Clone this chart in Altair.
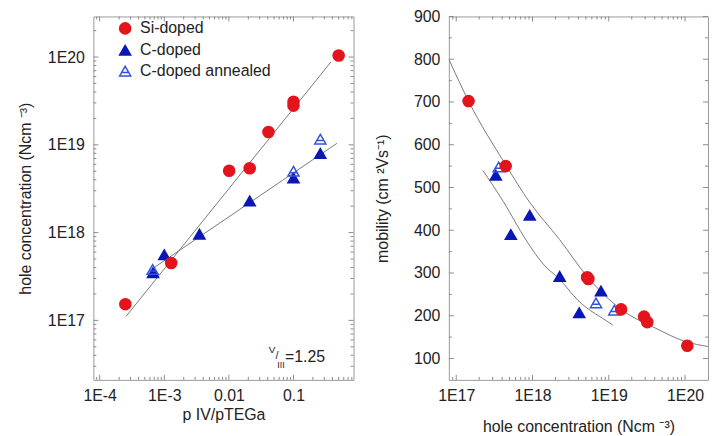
import altair as alt
import pandas as pd

# ---------------- data: left panel ----------------
si_ratio = [2.5e-4, 1.28e-3, 0.0101, 0.021, 0.041, 0.1, 0.1, 0.5]
si_hole = [1.53e17, 4.5e17, 5.07e18, 5.4e18, 1.4e19, 3.1e19, 2.8e19, 1.04e20]
c_ratio = [6.7e-4, 1.0e-3, 3.5e-3, 0.021, 0.1, 0.26]
c_hole = [3.5e17, 5.6e17, 9.6e17, 2.3e18, 4.2e18, 8.0e18]
ca_ratio = [6.6e-4, 0.1, 0.26]
ca_hole = [3.8e17, 5.0e18, 1.16e19]

si_fit_ratio = [2.56e-4, 0.38]
si_fit_hole = [1.11e17, 8.8e19]
c_fit_ratio = [7.0e-4, 0.47]
c_fit_hole = [4.0e17, 1.04e19]

# ---------------- data: right panel ----------------
si_conc = [1.45e17, 4.45e17, 5.2e18, 5.4e18, 1.45e19, 2.9e19, 3.2e19, 1.07e20]
si_mob = [702, 550, 290, 286, 215, 198, 185, 130]
c_conc = [3.3e17, 5.2e17, 9.2e17, 2.27e18, 4.1e18, 7.9e18]
c_mob = [529, 390, 435, 292, 207, 258]
ca_conc = [3.6e17, 6.8e18, 1.18e19]
ca_mob = [548, 230, 213]

upper_fit_conc = [8.0e16, 1.45e17, 4.45e17, 9.2e17, 2.27e18, 5.3e18, 1.45e19, 4.1e19, 1.0e20, 2.0e20]
upper_fit_mob = [800, 702, 553, 465, 378, 290, 215, 171, 140, 128]
lower_fit_conc = [2.23e17, 4.15e17, 8.36e17, 1.38e18, 2.27e18, 3.95e18, 1.07e19, 1.13e19]
lower_fit_mob = [540, 467, 375, 321, 285, 236, 181, 178]

series_names = ["Si-doped", "C-doped", "C-doped annealed"]

# axis tick values
lx_major = [1e-4, 1e-3, 1e-2, 1e-1]
lx_minor = [9e-5] + [k * 10.0 ** e for e in (-4, -3, -2, -1) for k in range(2, 10) if k * 10.0 ** e <= 0.85]
ly_major = [1e17, 1e18, 1e19, 1e20]
ly_minor = [k * 1e16 for k in range(3, 10)] + [k * 10.0 ** e for e in (17, 18, 19) for k in range(2, 10)] + [2e20]
rx_major = [1e17, 1e18, 1e19, 1e20]
rx_minor = [9e16] + [k * 10.0 ** e for e in (17, 18, 19) for k in range(2, 10)]
ry_major = [100, 200, 300, 400, 500, 600, 700, 800, 900]
ry_minor = [150, 250, 350, 450, 550, 650, 750, 850]

# ---------------- style ----------------
FONT = "Liberation Sans"
W1, W2, H = 262, 261, 366
red = "#e3141b"
blue = "#0b17b5"
blue_light = "#3352de"
fit_color = "#7a7a7a"
tick_color = "#8a8a8a"
text_color = "#222222"

shape_range = ["circle", "triangle-up", "M0,-0.866L1,0.866L-1,0.866Z M-0.55,0.25L0.55,0.25"]
fill_range = [red, blue, "transparent"]
stroke_range = [red, blue, blue_light]


def points_df(xs_list, ys_list):
    rows = []
    for name, xs, ys in zip(series_names, xs_list, ys_list):
        for a, b in zip(xs, ys):
            rows.append({"x": a, "y": b, "series": name})
    return pd.DataFrame(rows)


def fit_df(pairs):
    rows = []
    for i, (xs, ys) in enumerate(pairs):
        for a, b in zip(xs, ys):
            rows.append({"x": a, "y": b, "fit": i})
    return pd.DataFrame(rows)


def tick_layers(xenc_field, yenc_field, xs_major, xs_minor, ys_major, ys_minor, w, h):
    layers = []
    for vals, ln in ((xs_major, 5), (xs_minor, 3)):
        df = pd.DataFrame({"x": vals})
        layers.append(alt.Chart(df).mark_rule(color=tick_color, strokeWidth=1).encode(
            x=xenc_field, y=alt.value(h), y2=alt.value(h - ln)))
        layers.append(alt.Chart(df).mark_rule(color=tick_color, strokeWidth=1).encode(
            x=xenc_field, y=alt.value(0), y2=alt.value(ln)))
    for vals, ln in ((ys_major, 5), (ys_minor, 3)):
        df = pd.DataFrame({"y": vals})
        layers.append(alt.Chart(df).mark_rule(color=tick_color, strokeWidth=1).encode(
            y=yenc_field, x=alt.value(0), x2=alt.value(ln)))
        layers.append(alt.Chart(df).mark_rule(color=tick_color, strokeWidth=1).encode(
            y=yenc_field, x=alt.value(w), x2=alt.value(w - ln)))
    return layers


# ---------------- left panel ----------------
lx = alt.X("x:Q", scale=alt.Scale(type="log", domain=[8e-5, 0.85]),
           axis=alt.Axis(values=lx_major, title="p IV/pTEGa", ticks=False, domain=False, grid=False,
                         labelExpr="datum.value < 0.005 ? '1E' + round(log(datum.value)/LN10) : format(datum.value, '')",
                         labelPadding=8, titlePadding=3))
ly = alt.Y("y:Q", scale=alt.Scale(type="log", domain=[2.1e16, 2.9e20]),
           axis=alt.Axis(values=ly_major, title="hole concentration (Ncm ⁻³)", ticks=False, domain=False,
                         grid=False, labelExpr="'1E' + round(log(datum.value)/LN10)",
                         labelPadding=9, titlePadding=14))

legend = alt.Legend(title=None, orient="none", legendX=24, legendY=4, labelFontSize=16,
                    labelFont=FONT, labelColor=text_color, symbolSize=125, symbolStrokeWidth=1.5,
                    rowPadding=5, labelOffset=7)

left_pts = points_df([si_ratio, c_ratio, ca_ratio], [si_hole, c_hole, ca_hole])
left_fit = fit_df([(si_fit_ratio, si_fit_hole), (c_fit_ratio, c_fit_hole)])

left_lines = alt.Chart(left_fit).mark_line(color=fit_color, strokeWidth=1, clip=True).encode(
    x=lx, y=ly, detail="fit:N")


def point_layer(df, xenc, yenc, show_legend):
    lg = legend if show_legend else None
    return alt.Chart(df).mark_point(size=125, opacity=1, strokeWidth=1.5).encode(
        x=xenc, y=yenc,
        shape=alt.Shape("series:N", scale=alt.Scale(domain=series_names, range=shape_range), legend=lg),
        fill=alt.Fill("series:N", scale=alt.Scale(domain=series_names, range=fill_range), legend=lg),
        stroke=alt.Stroke("series:N", scale=alt.Scale(domain=series_names, range=stroke_range), legend=lg),
        order=alt.Order("series:N", sort="ascending"),
    )


left_points = point_layer(left_pts, lx, ly, True)


def ann(text, size, px, py, align="center"):
    return alt.Chart(pd.DataFrame({"t": [text]})).mark_text(
        font=FONT, fontSize=size, fill=text_color, align=align, baseline="middle"
    ).encode(x=alt.value(px), y=alt.value(py), text="t:N")


left = alt.layer(
    *tick_layers(lx, ly, lx_major, lx_minor, ly_major, ly_minor, W1, H),
    left_lines, left_points,
    ann("V", 10, 180, 336), ann("/", 11, 185, 342), ann("III", 9, 189, 351),
    ann("=1.25", 16, 193, 343, "left"),
).properties(width=W1, height=H)

# ---------------- right panel ----------------
rx = alt.X("x:Q", scale=alt.Scale(type="log", domain=[8e16, 2e20]),
           axis=alt.Axis(values=rx_major, title="hole concentration (Ncm ⁻³)", ticks=False, domain=False,
                         grid=False, labelExpr="'1E' + round(log(datum.value)/LN10)",
                         labelPadding=8, titlePadding=15))
ry = alt.Y("y:Q", scale=alt.Scale(domain=[50, 900], nice=False, zero=False),
           axis=alt.Axis(values=ry_major, title="mobility (cm ²Vs⁻¹)", ticks=False, domain=False,
                         grid=False, labelPadding=9, titlePadding=23))

right_pts = points_df([si_conc, c_conc, ca_conc], [si_mob, c_mob, ca_mob])
right_fit = fit_df([(upper_fit_conc, upper_fit_mob), (lower_fit_conc, lower_fit_mob)])

right_lines = alt.Chart(right_fit).mark_line(color=fit_color, strokeWidth=1, clip=True, interpolate="monotone").encode(
    x=rx, y=ry, detail="fit:N")
right_points = point_layer(right_pts, rx, ry, False)

right = alt.layer(
    *tick_layers(rx, ry, rx_major, rx_minor, ry_major, ry_minor, W2, H),
    right_lines, right_points,
).properties(width=W2, height=H)

chart = alt.hconcat(left, right, spacing=96, bounds="flush").resolve_scale(
    shape="independent", fill="independent", stroke="independent"
).properties(
    padding={"left": 9, "top": -2, "right": 0, "bottom": 0},
    background="white",
).configure_view(
    stroke="#9a9a9a", strokeWidth=1
).configure_axis(
    labelFont=FONT, labelFontSize=16, labelColor=text_color,
    titleFont=FONT, titleFontSize=16, titleFontWeight="normal", titleColor=text_color,
)

chart.save("out.html", embed_options={"renderer": "svg", "actions": False})
